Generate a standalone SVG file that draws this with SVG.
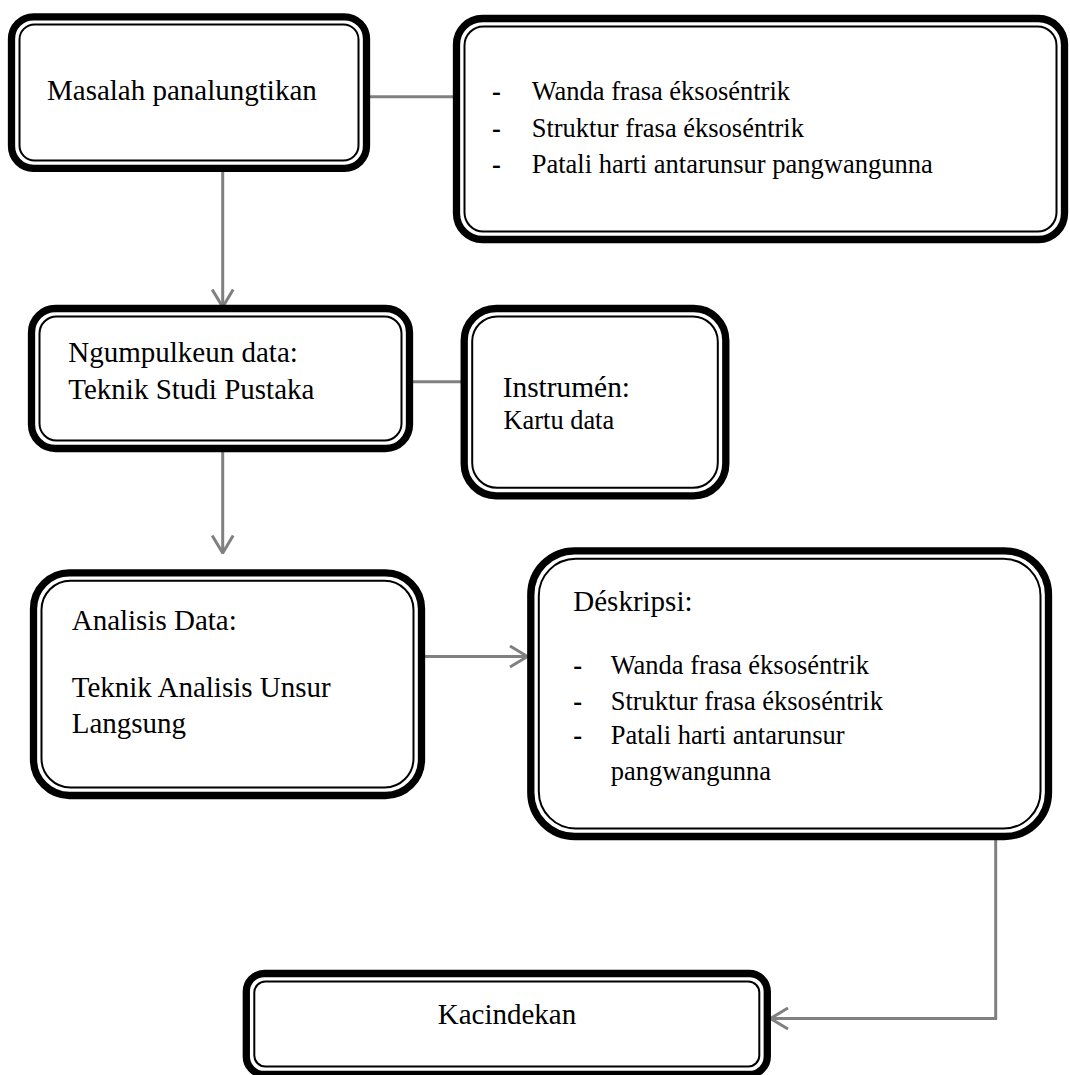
<svg xmlns="http://www.w3.org/2000/svg" width="1070" height="1075" viewBox="0 0 1070 1075" font-family="'Liberation Serif', 'Times New Roman', serif">
<style>
.outer{fill:#fff;stroke:#000;stroke-width:7.3}
.inner{fill:none;stroke:#000;stroke-width:2}
text{font-family:'Liberation Serif','Times New Roman',serif;fill:#000}
.conn{fill:none;stroke:#808080;stroke-width:3}
</style>
<defs>
<marker id="arr" viewBox="0 0 20 24" refX="19" refY="12" markerWidth="20" markerHeight="24" markerUnits="userSpaceOnUse" orient="auto">
<path d="M1.5,1.5 L19,12 L1.5,22.5" fill="none" stroke="#808080" stroke-width="3"/>
</marker>
</defs>
<rect width="1070" height="1075" fill="#fff"/>
<g id="connectors">
<line class="conn" x1="370" y1="96.7" x2="453" y2="96.7"/>
<line class="conn" x1="222.7" y1="172" x2="222.7" y2="307" marker-end="url(#arr)"/>
<line class="conn" x1="413" y1="381.7" x2="461" y2="381.7"/>
<line class="conn" x1="222.7" y1="452" x2="222.7" y2="553" marker-end="url(#arr)"/>
<line class="conn" x1="425" y1="656.5" x2="527.5" y2="656.5" marker-end="url(#arr)"/>
<polyline class="conn" points="995.7,840 995.7,1018.5 770.5,1018.5" marker-end="url(#arr)"/>
</g>
<g id="node-masalah">
<rect class="outer" x="11.5" y="16.8" width="355" height="151.5" rx="22"/>
<rect class="inner" x="19.5" y="24.5" width="339" height="136" rx="15"/>
<text x="47" y="100" font-size="29">Masalah panalungtikan</text>
</g>
<g id="node-masalah-list">
<rect class="outer" x="456.5" y="18.5" width="608" height="221" rx="26"/>
<rect class="inner" x="464.5" y="26.5" width="592" height="205" rx="19"/>
<text x="492" y="100" font-size="26.5" font-weight="bold">-</text>
<text x="531.7" y="100" font-size="26.5">Wanda frasa éksoséntrik</text>
<text x="492" y="136.7" font-size="26.5" font-weight="bold">-</text>
<text x="531.7" y="136.7" font-size="26.5">Struktur frasa éksoséntrik</text>
<text x="492" y="172.7" font-size="26.5" font-weight="bold">-</text>
<text x="531.7" y="172.7" font-size="26.5">Patali harti antarunsur pangwangunna</text>
</g>
<g id="node-ngumpulkeun">
<rect class="outer" x="31.5" y="308.5" width="378" height="140" rx="24"/>
<rect class="inner" x="39.5" y="316.5" width="362" height="124" rx="17"/>
<text x="68.3" y="361.7" font-size="29">Ngumpulkeun data:</text>
<text x="68.3" y="399" font-size="29">Teknik Studi Pustaka</text>
</g>
<g id="node-instrumen">
<rect class="outer" x="464.2" y="308.5" width="261.6" height="187.3" rx="32"/>
<rect class="inner" x="472.2" y="316.5" width="245.6" height="171.3" rx="25"/>
<text x="502.7" y="397.3" font-size="29.4">Instrumén:</text>
<text x="503.5" y="429.3" font-size="26.4">Kartu data</text>
</g>
<g id="node-analisis">
<rect class="outer" x="33.5" y="572.8" width="388" height="222.7" rx="36"/>
<rect class="inner" x="41.5" y="580.8" width="372" height="206.7" rx="29"/>
<text x="71.7" y="630" font-size="29">Analisis Data:</text>
<text x="71.7" y="696.7" font-size="29">Teknik Analisis Unsur</text>
<text x="71.7" y="733" font-size="29">Langsung</text>
</g>
<g id="node-deskripsi">
<rect class="outer" x="530.8" y="550.8" width="517.7" height="285.7" rx="44"/>
<rect class="inner" x="538.8" y="558.8" width="501.7" height="269.7" rx="37"/>
<text x="573.3" y="610.7" font-size="29">Déskripsi:</text>
<text x="573.3" y="674" font-size="26.5" font-weight="bold">-</text>
<text x="610.7" y="674" font-size="26.5">Wanda frasa éksoséntrik</text>
<text x="573.3" y="710" font-size="26.5" font-weight="bold">-</text>
<text x="610.7" y="710" font-size="26.5">Struktur frasa éksoséntrik</text>
<text x="573.3" y="744" font-size="26.5" font-weight="bold">-</text>
<text x="610.7" y="744" font-size="26.5">Patali harti antarunsur</text>
<text x="610.7" y="780" font-size="26.5">pangwangunna</text>
</g>
<g id="node-kacindekan">
<rect class="outer" x="246.3" y="973.5" width="521" height="101" rx="18"/>
<rect class="inner" x="254.3" y="981.5" width="505" height="85" rx="11"/>
<text x="507" y="1024" font-size="29" text-anchor="middle">Kacindekan</text>
</g>
</svg>
